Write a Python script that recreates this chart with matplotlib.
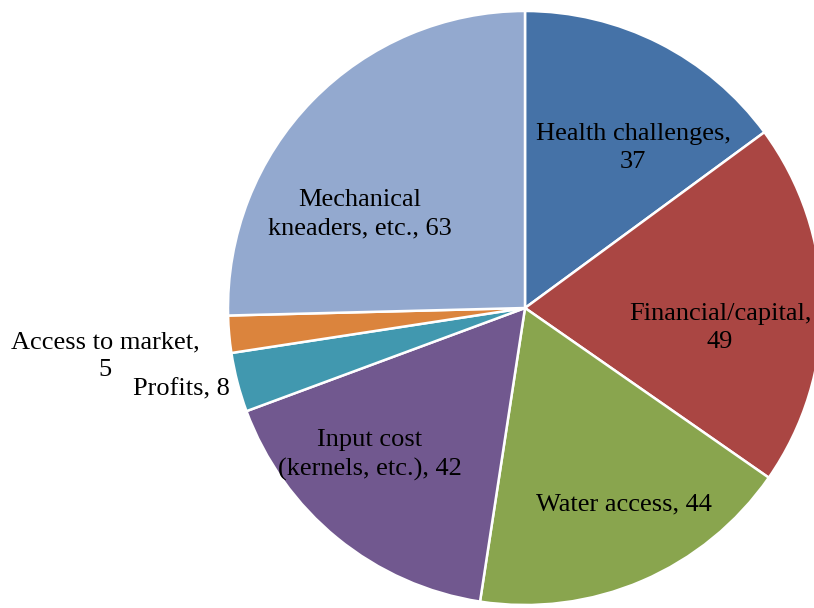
import matplotlib
matplotlib.use('Agg')
import matplotlib.pyplot as plt

# slices, clockwise from 12 o'clock
categories = ['Health challenges', 'Financial/capital', 'Water access',
              'Input cost\n(kernels, etc.)', 'Profits', 'Access to market',
              'Mechanical\nkneaders, etc.']
values = [37, 49, 44, 42, 8, 5, 63]
label_text = ['Health challenges,\n37', 'Financial/capital,\n49', 'Water access, 44',
              'Input cost\n(kernels, etc.), 42', 'Profits, 8', 'Access to market,\n5',
              'Mechanical\nkneaders, etc., 63']
colors = ['#4572A7', '#AA4643', '#89A54E', '#71588F', '#4198AF', '#DB843D', '#93A9CF']

# label centres in pixel space (x from left, y from top)
label_pos = [(633, 148), (720, 328), (624, 504), (370, 455), (181, 389), (105, 356), (360, 214)]

W, H = 814, 608
fig = plt.figure(figsize=(W/100, H/100), dpi=100)
ax = fig.add_axes([0, 0, 1, 1])

ax.pie(values, colors=colors, startangle=90, counterclock=False,
       center=(525, H-308), radius=297, frame=True,
       wedgeprops=dict(edgecolor='white', linewidth=1.8))
ax.set_xlim(0, W); ax.set_ylim(0, H); ax.set_aspect('equal'); ax.axis('off')

for txt, (x, y) in zip(label_text, label_pos):
    ax.text(x, H-y, txt, ha='center', va='center', multialignment='center',
            fontsize=19, family='Liberation Serif', color='black', linespacing=1.35)

fig.savefig('out.png', dpi=100)
